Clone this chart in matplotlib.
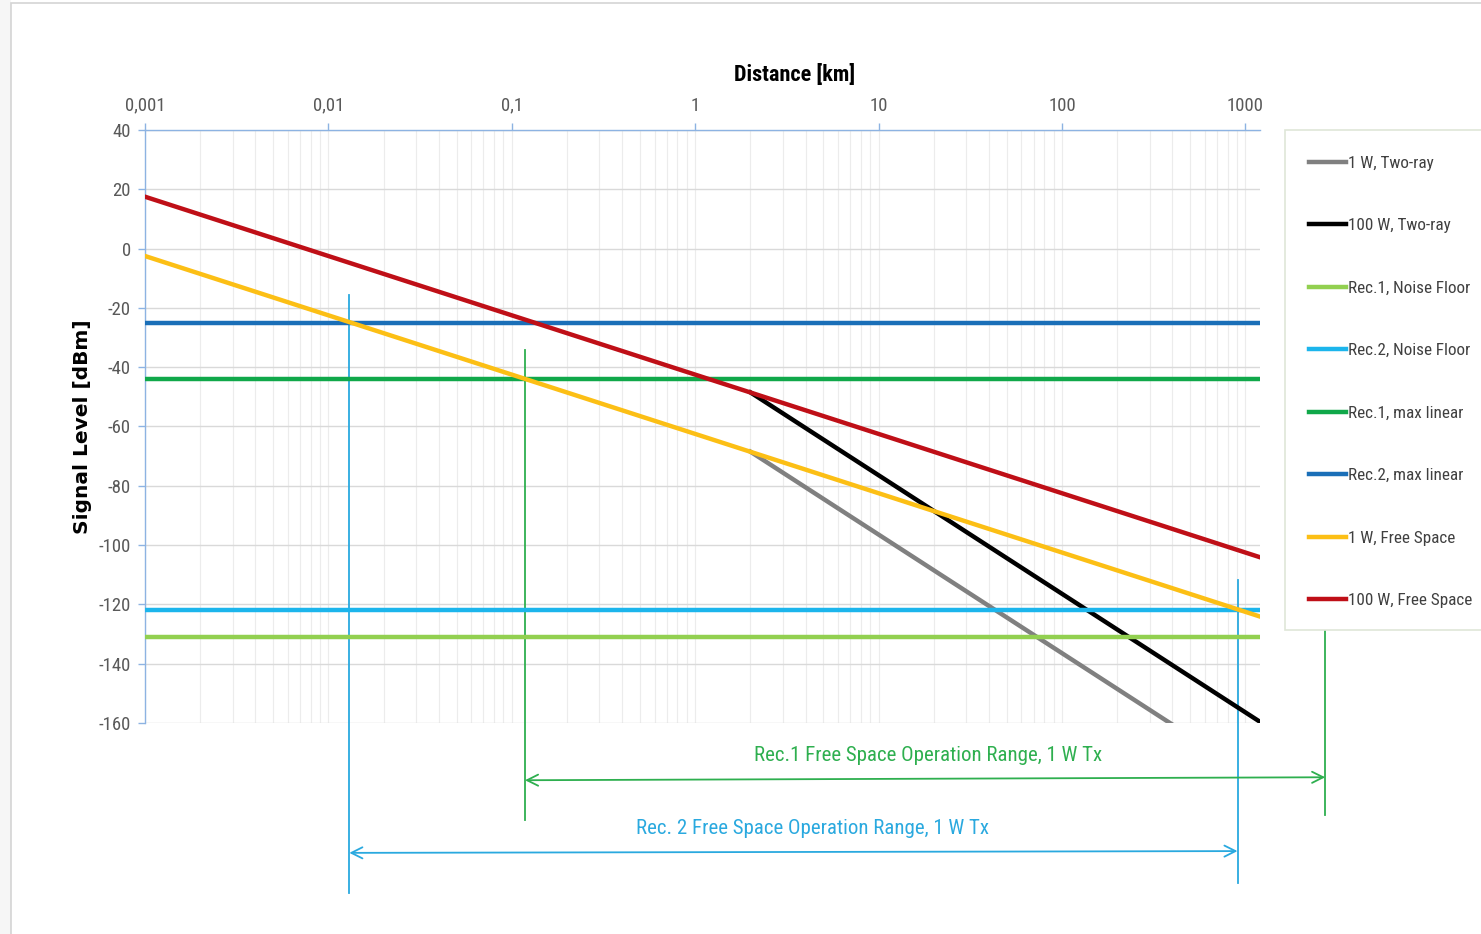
"""Link budget: received signal level vs. distance for free-space and two-ray
propagation, with the two receivers' noise floors and linearity limits."""
import matplotlib
matplotlib.use("Agg")
import matplotlib.pyplot as plt
from matplotlib import font_manager
from matplotlib.patches import Rectangle

# ---- data (dBm vs km) ----
dist_free = [0.001, 1200]
level_1w_free = [-2.5, -124.1]
level_100w_free = [17.5, -104.1]

dist_two_ray_100w = [2, 1200]
level_100w_two_ray = [-48.5, -159.6]
dist_two_ray_1w = [2, 420]
level_1w_two_ray = [-68.5, -161.4]

dist_span = [0.001, 1200]
rec1_noise_floor = -131
rec2_noise_floor = -122
rec1_max_linear = -44
rec2_max_linear = -25

# operating range of each receiver with the 1 W transmitter (km)
rec1_range = [0.118, 2720]
rec2_range = [0.0130, 905]

x_ticks = [0.001, 0.01, 0.1, 1, 10, 100, 1000]
x_tick_labels = ["0,001", "0,01", "0,1", "1", "10", "100", "1000"]
y_ticks = list(range(-160, 41, 20))

plt.rcParams["axes.unicode_minus"] = False

names = {f.name for f in font_manager.fontManager.ttflist}
narrow = next(n for n in ["Roboto Condensed", "Liberation Sans Narrow",
                          "Lato", "DejaVu Sans"] if n in names)

W, H = 1481, 934
fig = plt.figure(figsize=(W / 100, H / 100), dpi=100)

# screenshot frame
fig.add_artist(Rectangle((0, 0), 10.5 / W, 1, transform=fig.transFigure,
                         facecolor="#f6f6f6", edgecolor="none"))
fig.add_artist(Rectangle((10.5 / W, -0.01), 1.0, 1 - 2.5 / H + 0.01, transform=fig.transFigure,
                         facecolor="none", edgecolor="#d4d4d4", lw=1.2))

ax = fig.add_axes([145 / W, 1 - 723 / H, 1115 / W, 593 / H])
ax.set_xscale("log")
ax.set_xlim(0.001, 1200)
ax.set_ylim(-160, 40)

lw = 3.2
ax.plot(dist_two_ray_1w, level_1w_two_ray, color="#808080", lw=lw, label="1 W, Two-ray", zorder=3)
ax.plot(dist_two_ray_100w, level_100w_two_ray, color="#000000", lw=lw, label="100 W, Two-ray", zorder=3)
ax.plot(dist_span, [rec1_noise_floor] * 2, color="#92d050", lw=lw, label="Rec.1, Noise Floor", zorder=3)
ax.plot(dist_span, [rec2_noise_floor] * 2, color="#1cb5ec", lw=lw, label="Rec.2, Noise Floor", zorder=3)
ax.plot(dist_span, [rec1_max_linear] * 2, color="#10a84a", lw=lw, label="Rec.1, max linear", zorder=3)
ax.plot(dist_span, [rec2_max_linear] * 2, color="#1a6fb8", lw=lw, label="Rec.2, max linear", zorder=3)
ax.plot(dist_free, level_1w_free, color="#fcbf15", lw=lw, label="1 W, Free Space", zorder=4)
ax.plot(dist_free, level_100w_free, color="#bf0f17", lw=lw, label="100 W, Free Space", zorder=4)

# axes styling: x axis on top, light blue axis lines, grey grid
for side in ("right", "bottom"):
    ax.spines[side].set_visible(False)
for side in ("left", "top"):
    ax.spines[side].set_color("#8db3e2")
    ax.spines[side].set_linewidth(1.0)
ax.xaxis.tick_top()
ax.set_xticks(x_ticks)
ax.set_xticklabels(x_tick_labels)
ax.set_yticks(y_ticks)
ax.tick_params(axis="both", which="major", direction="out", length=5, width=1,
               color="#8db3e2", labelcolor="#595959", labelsize=13.5)
ax.tick_params(axis="x", which="major", pad=6)
ax.tick_params(axis="y", which="major", pad=5)
ax.tick_params(axis="x", which="minor", length=0)
for lab in ax.get_xticklabels() + ax.get_yticklabels():
    lab.set_family(narrow)
ax.grid(True, which="major", axis="y", color="#d9d9d9", lw=1)
ax.grid(True, which="both", axis="x", color="#ececec", lw=0.8)
ax.set_axisbelow(True)

ax.set_xlabel("Distance [km]", fontsize=16, fontweight="bold", family=narrow)
ax.xaxis.set_label_position("top")
ax.xaxis.set_label_coords(0.583, 1.082)
ax.set_ylabel("Signal Level [dBm]", fontsize=14.5, fontweight="bold")
ax.yaxis.set_label_coords(-0.0475, 0.5)

# range markers below the plot
green, blue = "#2eaf4f", "#2aa9df"
ax.plot([rec2_range[0]] * 2, [-15.6, -217.3], color=blue, lw=1.3, clip_on=False)
ax.plot([rec2_range[1]] * 2, [-111.8, -214.0], color=blue, lw=1.3, clip_on=False)
ax.plot([rec1_range[0]] * 2, [-34.2, -192.7], color=green, lw=1.3, clip_on=False)
ax.plot([rec1_range[1]] * 2, [-128.0, -191.0], color=green, lw=1.3, clip_on=False)

arrow = dict(arrowstyle="<->,head_length=0.8,head_width=0.4", lw=1.3, shrinkA=0, shrinkB=0)
ax.annotate("", xy=(rec1_range[0], -179.3), xytext=(rec1_range[1], -178.3),
            arrowprops=dict(arrow, color=green), annotation_clip=False)
ax.annotate("", xy=(rec2_range[0], -203.8), xytext=(rec2_range[1], -203.2),
            arrowprops=dict(arrow, color=blue), annotation_clip=False)
ax.text(18.7, -171, "Rec.1 Free Space Operation Range, 1 W Tx", color=green,
        fontsize=15, family=narrow, ha="center", va="center", clip_on=False)
ax.text(4.35, -195.5, "Rec. 2 Free Space Operation Range, 1 W Tx", color=blue,
        fontsize=15, family=narrow, ha="center", va="center", clip_on=False)

# legend box on the right, partly cut off by the figure edge
fig.add_artist(Rectangle((1285 / W, 1 - 630 / H), 0.2, 500 / H, transform=fig.transFigure,
                         facecolor="white", edgecolor="#dfe6d8", lw=1.2))
fig.legend(loc="upper left", bbox_to_anchor=(1302 / W, 1 - 149 / H), frameon=False,
           prop=dict(family=narrow, size=12.3), labelcolor="#404040",
           handlelength=2.2, handletextpad=0.12, labelspacing=2.78, borderaxespad=0)

fig.savefig("out.png", dpi=100)
